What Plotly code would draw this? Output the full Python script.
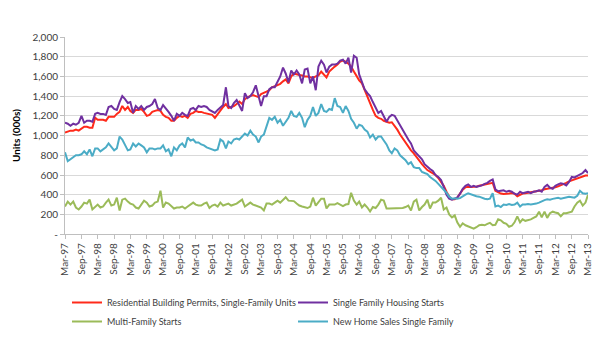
import pandas as pd
import plotly.graph_objects as go

# Monthly series, Mar-1997 .. Mar-2013 (thousands of units)
permits_sf = [
    1030, 1040, 1050, 1050, 1060, 1050, 1070, 1090, 1090, 1080, 1080, 1180,
    1160, 1160, 1160, 1150, 1190, 1190, 1190, 1220, 1240, 1300, 1260, 1290,
    1250, 1230, 1260, 1260, 1270, 1240, 1200, 1210, 1240, 1250, 1260, 1250,
    1210, 1190, 1180, 1150, 1150, 1180, 1200, 1190, 1200, 1180, 1220, 1230,
    1250, 1240, 1240, 1230, 1225, 1220, 1210, 1180, 1220, 1250, 1290, 1320,
    1280, 1290, 1300, 1320, 1345, 1320, 1370, 1390, 1400, 1410, 1400, 1390,
    1420, 1430, 1445, 1460, 1490, 1500, 1510, 1525, 1550, 1570, 1530, 1600,
    1630, 1620, 1615, 1610, 1600, 1600, 1590, 1585, 1600, 1610, 1650, 1620,
    1590, 1650, 1680, 1700, 1720, 1750, 1760, 1750, 1730, 1700, 1650, 1600,
    1560, 1530, 1460, 1400, 1320, 1260, 1200, 1180, 1170, 1150, 1140, 1130,
    1135, 1100, 1060, 1010, 970, 930, 880, 850, 820, 780, 740, 710,
    680, 650, 635, 620, 600, 570, 530, 490, 430, 380, 355, 355,
    370, 410, 450, 475, 480, 477, 477, 482, 490, 497, 505, 510,
    518, 520, 440, 425, 412, 408, 408, 412, 418, 410, 385, 400,
    412, 415, 420, 422, 428, 432, 438, 445, 455, 460, 462, 468,
    475, 485, 495, 505, 520, 535, 545, 555, 565, 575, 590, 595,
    595,
]

sf_starts = [
    1130, 1120, 1100, 1120, 1110, 1130, 1200, 1130, 1150, 1150, 1140, 1220,
    1230, 1220, 1220, 1210, 1290, 1300, 1270, 1260, 1340, 1400, 1370, 1330,
    1340, 1230, 1300, 1270, 1300, 1260, 1290, 1300, 1320, 1370, 1280, 1260,
    1310, 1280, 1240, 1200, 1150, 1220, 1200, 1230, 1210, 1200, 1270, 1280,
    1260, 1300, 1290, 1300, 1290, 1260, 1240, 1230, 1260, 1290, 1310, 1490,
    1300, 1280, 1330, 1360, 1300, 1250, 1430, 1380, 1400, 1440, 1510, 1410,
    1300, 1400, 1400, 1470, 1490, 1490, 1540, 1600, 1690, 1630, 1540, 1660,
    1620, 1660, 1620, 1530, 1670, 1680, 1530, 1600, 1460, 1700, 1760, 1720,
    1640, 1700, 1720, 1720, 1730, 1760, 1770, 1730, 1790, 1640, 1810, 1790,
    1620, 1550, 1470, 1430, 1400, 1340, 1280, 1230, 1250, 1200, 1140, 1190,
    1210, 1200, 1150, 1100, 1060, 1000, 960, 920, 850, 820, 790, 760,
    710, 680, 660, 640, 600, 580, 550, 480, 400, 360, 350, 360,
    370, 410, 460, 490, 505, 480, 490, 480, 485, 495, 510, 520,
    540, 555, 455, 435, 440, 445, 430, 440, 430, 410, 400, 430,
    415, 420, 430, 415, 430, 435, 445, 430, 480, 500, 470, 460,
    490, 505, 515, 510, 495, 530, 580, 575, 590, 610, 620, 650,
    620,
]

mf_starts = [
    280, 330, 300, 330, 270, 250, 280, 320, 310, 350, 250, 280,
    300, 270, 280, 320, 350, 290, 300, 370, 240, 350, 360, 330,
    310, 300, 270, 260, 300, 340, 320, 280, 290, 320, 330, 440,
    270, 320, 310, 280, 260, 270, 270, 280, 260, 280, 300, 320,
    300, 290, 290, 310, 320, 265, 290, 300, 280, 320, 290, 300,
    310, 290, 300, 310, 330, 350, 280, 300, 320, 300, 290, 280,
    270, 240, 310, 310, 300, 320, 340, 320, 350, 375, 340, 335,
    335, 310, 290, 280, 275, 265, 280, 370, 290, 330, 360, 360,
    260, 300, 300, 300, 315, 300, 285, 300, 305, 420, 340, 300,
    330, 270, 300, 270, 230, 275, 265, 300, 350, 340, 260, 260,
    260, 260, 260, 260, 265, 275, 290, 240, 330, 350, 240, 275,
    300, 350, 260, 320, 320, 340, 370, 250, 270, 200, 170, 190,
    120, 75, 110, 90, 80, 65, 55, 70, 90, 95, 90, 105,
    115, 90, 95, 150, 140, 115, 105, 75, 85, 120, 180, 120,
    150, 135, 140, 150, 165, 180, 228, 170, 228, 165, 212, 228,
    220, 212, 181, 212, 212, 220, 228, 280, 320, 340, 290, 320,
    400,
]

new_home_sales = [
    830, 740, 760, 780, 800, 800, 810, 840, 810, 860, 790, 870,
    870, 840, 860, 880, 920, 880, 850, 870, 990, 960, 900, 850,
    860, 920, 890, 920, 900, 880, 830, 870, 870, 860, 870, 870,
    900, 840, 860, 790, 880, 850, 900, 920, 880, 980, 950, 960,
    930, 930, 910, 900, 880, 870, 860, 850, 860, 960, 940, 870,
    940, 920, 960, 970, 960, 990, 1020, 1000, 1050, 1010, 990, 930,
    990, 1010, 1100, 1180, 1160, 1190, 1130, 1160, 1100, 1140, 1180, 1250,
    1200, 1190, 1230, 1180, 1085, 1160, 1200, 1290, 1200, 1230, 1320, 1250,
    1240, 1270, 1260, 1380, 1300, 1290, 1230, 1300, 1250, 1170, 1130, 1070,
    1110, 1100, 1060, 1040, 980, 1010, 960, 990, 990, 950, 910, 850,
    820, 870, 850, 800, 780, 750, 710, 730, 680, 670, 670, 630,
    620, 610, 580, 560, 540, 510, 480, 460, 420, 380, 360, 365,
    360, 365, 385, 400, 415, 405, 390, 384, 380, 368, 360, 355,
    360, 415, 280, 290, 275, 300, 295, 305, 295, 300, 320, 280,
    300, 300, 306, 302, 305, 310, 320, 335, 345, 353, 350, 358,
    365, 368, 360, 368, 368, 380, 375, 370, 390, 440, 415, 410,
    415,
]

months = pd.date_range("1997-03-01", periods=len(permits_sf), freq="MS")
y_ticks = [0, 200, 400, 600, 800, 1000, 1200, 1400, 1600, 1800, 2000]
y_tick_labels = ["-", "200", "400", "600", "800", "1,000", "1,200", "1,400", "1,600", "1,800", "2,000"]

series = [
    ("Residential Building Permits, Single-Family Units", permits_sf, "#FF2A1A"),
    ("Single Family Housing Starts", sf_starts, "#7030A0"),
    ("Multi-Family Starts", mf_starts, "#9BBB59"),
    ("New Home Sales Single Family", new_home_sales, "#4BACC6"),
]

FONT = "Lato, 'Liberation Sans Narrow', sans-serif"

fig = go.Figure()
for name, vals, col in series:
    fig.add_trace(go.Scatter(x=months, y=vals, mode="lines", name=name,
                             line=dict(color=col, width=2)))

fig.update_layout(
    width=615, height=350,
    margin=dict(l=65, r=27, t=37, b=99),
    paper_bgcolor="white", plot_bgcolor="white",
    font=dict(family=FONT, size=10, color="#404040"),
    showlegend=True,
    legend=dict(orientation="h", xref="container", yref="container",
                x=67 / 615, y=1 - 288 / 350, xanchor="left", yanchor="top",
                entrywidth=181, entrywidthmode="pixels",
                font=dict(family=FONT, size=9, color="#404040"),
                tracegroupgap=0, itemwidth=30, bgcolor="rgba(0,0,0,0)"),
)
fig.update_xaxes(
    range=[months[0], months[-1]],
    tickmode="linear", tick0="1997-03-01", dtick="M6", tickformat="%b-%y",
    tickangle=-90, ticks="outside", ticklen=4, tickcolor="#BFBFBF",
    showline=True, linecolor="#BFBFBF", linewidth=1,
    showgrid=False, zeroline=False,
    tickfont=dict(family=FONT, size=10, color="#404040"),
)
fig.update_yaxes(
    range=[0, 2000], tickmode="array", tickvals=y_ticks, ticktext=y_tick_labels,
    showgrid=True, gridcolor="#D9D9D9", gridwidth=1,
    showline=True, linecolor="#BFBFBF", linewidth=1,
    ticks="outside", ticklen=4, tickcolor="#BFBFBF",
    zeroline=False,
    tickfont=dict(family=FONT, size=10, color="#404040"),
    title=dict(text="<b>Units (000s)</b>", standoff=10,
               font=dict(family=FONT, size=10, color="#000000")),
)

fig.write_html("out.html")
